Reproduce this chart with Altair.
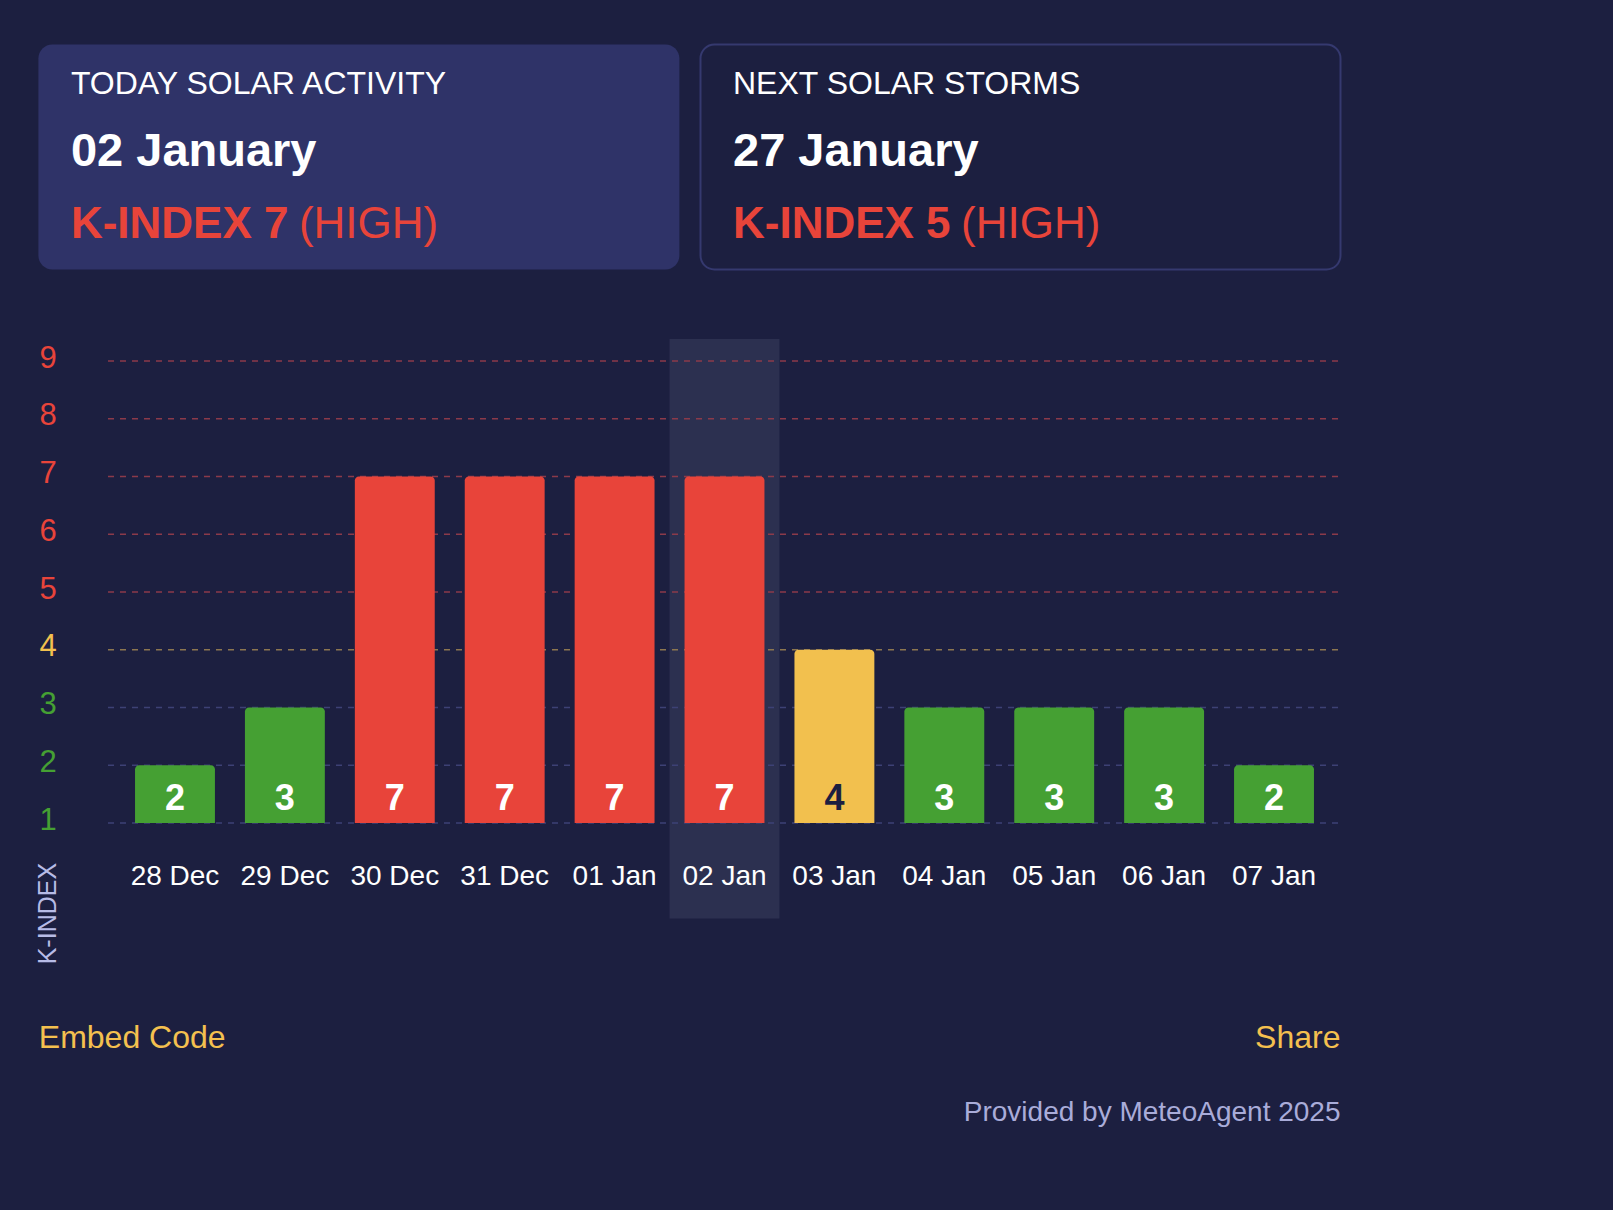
import altair as alt
import pandas as pd

# ---- data -------------------------------------------------------------
days = ["28 Dec", "29 Dec", "30 Dec", "31 Dec", "01 Jan", "02 Jan",
        "03 Jan", "04 Jan", "05 Jan", "06 Jan", "07 Jan"]
k_index = [2, 3, 7, 7, 7, 7, 4, 3, 3, 3, 2]
today = "02 Jan"
k_ticks = [1, 2, 3, 4, 5, 6, 7, 8, 9]

card_titles = ["TODAY SOLAR ACTIVITY", "NEXT SOLAR STORMS"]
card_dates = ["02 January", "27 January"]
card_k = [7, 5]
card_levels = ["HIGH", "HIGH"]

axis_title = "K-INDEX"
footer_left = "Embed Code"
footer_right = "Share"
credit = "Provided by MeteoAgent 2025"

# ---- style ------------------------------------------------------------
FONT = "Liberation Sans"
BG = "#1c1f40"
CARD_FILL = "#2f3368"
CARD_STROKE = "#35396f"
BAND = "#2c3050"
RED = "#e8443a"
YELLOW = "#f2c04e"
GREEN = "#45a033"
NAVY = "#1c1f40"

# plot area placement inside the 1613 x 1210 page
OX, OY = 108, 339
W, H = 1233, 484
PX_PER_K = 57.75
Y_MAX = 1 + H / PX_PER_K

df = pd.DataFrame({"day": days, "k": k_index})
ticks_df = pd.DataFrame({"k": k_ticks})

x_scale = alt.Scale(domain=days, paddingInner=0, paddingOuter=0.1095)
y_scale = alt.Scale(domain=[1, Y_MAX], zero=False, nice=False)

x_axis = alt.Axis(
    title=None, labelAngle=0, labelColor="#ffffff", labelFont=FONT,
    labelFontSize=28, labelPadding=53, labelBaseline="middle",
    domain=False, ticks=False, tickSize=0, grid=False,
    labelOverlap=False, zindex=1,
)
y_axis = alt.Axis(
    title=None, values=k_ticks, labelFont=FONT, labelFontSize=31,
    labelAlign="center", labelPadding=60.5, labelOffset=-3,
    labelColor=alt.ExprRef(
        f"datum.value >= 5 ? '{RED}' : datum.value == 4 ? '{YELLOW}' : '{GREEN}'"
    ),
    domain=False, ticks=False, tickSize=0, grid=False, zindex=1,
)

X = alt.X("day:N", scale=x_scale, axis=x_axis)


def px(x):
    return alt.value(x - OX)


def py(y):
    return alt.value(y - OY)


def text_at(text, x, y, size, color, weight="normal", align="left",
            baseline="alphabetic", angle=0):
    return alt.Chart(pd.DataFrame({"t": [text]})).mark_text(
        align=align, baseline=baseline, fontSize=size, fontWeight=weight,
        color=color, angle=angle, font=FONT,
    ).encode(x=px(x), y=py(y), text="t:N")


def card_box(x0, x1, y0, y1, fill, stroke=None):
    opts = dict(cornerRadius=14, fill=fill)
    if stroke:
        opts.update(stroke=stroke, strokeWidth=2)
    return alt.Chart(pd.DataFrame({"c": [0]})).mark_rect(**opts).encode(
        x=px(x0), x2=px(x1), y=py(y0), y2=py(y1)
    )


# ---- header cards -----------------------------------------------------
layers = []
card_lefts = [38.4, 700.5]
card_rights = [679.4, 1340.5]
for i in range(2):
    fill = CARD_FILL if i == 0 else BG
    stroke = None if i == 0 else CARD_STROKE
    layers.append(card_box(card_lefts[i], card_rights[i], 44.5, 269.5, fill, stroke))
    tx = card_lefts[i] + 32.5
    layers.append(text_at(card_titles[i], tx, 94, 32, "#ffffff"))
    layers.append(text_at(card_dates[i], tx, 166, 47, "#ffffff", weight="bold"))
    layers.append(text_at(f"K-INDEX {card_k[i]}", tx, 238.3, 44, RED, weight="bold"))
    layers.append(text_at(f"({card_levels[i]})", tx + 228, 238.3, 44, RED))

# ---- chart ------------------------------------------------------------
today_band = alt.Chart(df).transform_filter(
    alt.datum.day == today
).mark_bar(color=BAND).encode(
    x=X, y=alt.value(0), y2=alt.value(579.6)
)

grid = alt.Chart(ticks_df).transform_calculate(
    gc=f"datum.k >= 5 ? '#8b3a4a' : datum.k == 4 ? '#8c7650' : '#3d4175'"
).mark_rule(strokeDash=[6, 6], strokeWidth=1.5).encode(
    y=alt.Y("k:Q", scale=y_scale, axis=y_axis),
    x=alt.value(0), x2=alt.value(W),
    color=alt.Color("gc:N", scale=None),
)

bars = alt.Chart(df).transform_calculate(
    bc=f"datum.k >= 5 ? '{RED}' : datum.k == 4 ? '{YELLOW}' : '{GREEN}'",
    base="1",
).mark_bar(
    width=alt.RelativeBandSize(0.727),
    cornerRadiusTopLeft=4, cornerRadiusTopRight=4,
).encode(
    x=X,
    y=alt.Y("k:Q", scale=y_scale, axis=y_axis),
    y2="base:Q",
    color=alt.Color("bc:N", scale=None),
)

bar_labels = alt.Chart(df).transform_calculate(
    base="1"
).mark_text(
    font=FONT, fontSize=36, fontWeight="bold", baseline="middle", dy=-24
).encode(
    x=X,
    y=alt.Y("base:Q", scale=y_scale, axis=y_axis),
    text="k:Q",
    color=alt.condition(alt.datum.k == 4, alt.value(NAVY), alt.value("#ffffff")),
)

layers += [today_band, grid, bars, bar_labels]

# rotated axis caption
layers.append(text_at(axis_title, 47.5, 913.6, 25, "#b7bbe6",
                      align="center", baseline="middle", angle=270))

# ---- footer -----------------------------------------------------------
layers.append(text_at(footer_left, 38.8, 1048.3, 32, "#f4c04f"))
layers.append(text_at(footer_right, 1340.5, 1048.3, 32, "#f4c04f", align="right"))
layers.append(text_at(credit, 1340.5, 1120.7, 28, "#a9acd9", align="right"))

chart = alt.layer(*layers).properties(
    width=W,
    height=H,
    background=BG,
    padding={"left": OX, "top": OY, "right": 1613 - OX - W, "bottom": 1210 - OY - H},
    autosize=alt.AutoSizeParams(type="none"),
).configure_view(stroke=None)

chart.save("out.html", embed_options={"renderer": "svg", "actions": False})
